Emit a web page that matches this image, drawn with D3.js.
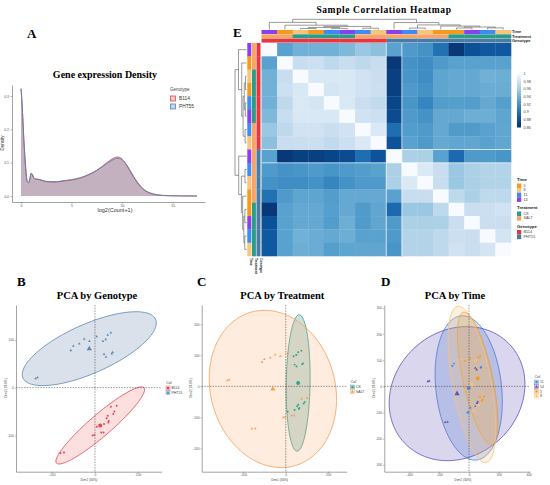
<!DOCTYPE html>
<html>
<head>
<meta charset="utf-8">
<script src="https://cdn.jsdelivr.net/npm/d3@7"></script>
<style>
  body { margin: 0; background: #fff; }
  text { font-family: "Liberation Sans", Arial, sans-serif; }
  .serif { font-family: "Liberation Serif", "Times New Roman", serif; font-weight: bold; }
</style>
</head>
<body>
<div id="fig"></div>
<script>
// ---------- data: density (panel A) ----------
const densityX = [0, 0.1, 0.2, 0.3, 0.4, 0.5, 0.6, 0.75, 0.9, 1.0, 1.1, 1.25, 1.5, 1.75, 2, 2.5, 3, 3.5, 4, 4.5, 5, 5.5, 6, 6.5, 7, 7.5, 8, 8.5, 9, 9.25, 9.5, 9.75, 10, 10.5, 11, 11.5, 12, 12.5, 13, 13.5, 14, 15, 16, 17.4];
const densityB114 = [0.322, 0.28, 0.22, 0.16, 0.11, 0.07, 0.045, 0.04, 0.055, 0.068, 0.066, 0.055, 0.05, 0.05, 0.047, 0.043, 0.042, 0.042, 0.044, 0.046, 0.048, 0.051, 0.055, 0.061, 0.068, 0.077, 0.088, 0.1, 0.111, 0.115, 0.117, 0.116, 0.11, 0.09, 0.063, 0.04, 0.022, 0.012, 0.006, 0.003, 0.0015, 0.0005, 0.0002, 0];
const densityPHT55 = [0.322, 0.28, 0.22, 0.16, 0.11, 0.07, 0.045, 0.04, 0.055, 0.068, 0.066, 0.055, 0.051, 0.05, 0.048, 0.044, 0.043, 0.043, 0.045, 0.047, 0.049, 0.052, 0.056, 0.062, 0.069, 0.077, 0.087, 0.098, 0.107, 0.111, 0.113, 0.113, 0.109, 0.091, 0.066, 0.042, 0.024, 0.013, 0.007, 0.0035, 0.0018, 0.0006, 0.0002, 0];
const densityTicksX = [0, 5, 10, 15];
const densityTicksY = [0, 0.1, 0.2, 0.3];

// ---------- data: correlation heatmap (panel E) ----------
const hmValues = [
  [1.000,0.930,0.940,0.940,0.940,0.945,0.955,0.950,0.930,0.925,0.920,0.900,0.865,0.880,0.885,0.885],
  [0.930,1.000,0.975,0.978,0.970,0.975,0.970,0.975,0.865,0.920,0.917,0.925,0.930,0.930,0.930,0.930],
  [0.940,0.975,1.000,0.985,0.985,0.985,0.980,0.976,0.870,0.922,0.917,0.932,0.935,0.935,0.940,0.938],
  [0.940,0.978,0.985,1.000,0.982,0.985,0.980,0.977,0.870,0.925,0.920,0.932,0.935,0.935,0.937,0.937],
  [0.940,0.970,0.985,0.982,1.000,0.985,0.976,0.972,0.873,0.922,0.912,0.927,0.928,0.927,0.935,0.928],
  [0.945,0.975,0.985,0.985,0.985,1.000,0.980,0.978,0.877,0.925,0.920,0.935,0.935,0.938,0.938,0.932],
  [0.955,0.970,0.980,0.980,0.976,0.980,1.000,0.986,0.898,0.927,0.925,0.935,0.926,0.926,0.930,0.933],
  [0.950,0.975,0.976,0.977,0.972,0.978,0.986,1.000,0.882,0.930,0.925,0.935,0.933,0.933,0.930,0.933],
  [0.930,0.865,0.870,0.870,0.873,0.877,0.898,0.882,1.000,0.962,0.962,0.930,0.895,0.925,0.925,0.922],
  [0.925,0.920,0.922,0.925,0.922,0.925,0.927,0.930,0.962,1.000,0.986,0.975,0.955,0.962,0.965,0.965],
  [0.920,0.917,0.917,0.920,0.912,0.920,0.925,0.925,0.962,0.986,1.000,0.975,0.955,0.962,0.965,0.965],
  [0.900,0.925,0.932,0.932,0.927,0.935,0.935,0.935,0.930,0.975,0.975,1.000,0.970,0.962,0.970,0.970],
  [0.865,0.930,0.935,0.935,0.928,0.935,0.926,0.933,0.895,0.955,0.955,0.970,1.000,0.976,0.977,0.980],
  [0.880,0.930,0.935,0.935,0.927,0.938,0.926,0.933,0.925,0.962,0.962,0.962,0.976,1.000,0.976,0.976],
  [0.885,0.930,0.940,0.937,0.935,0.938,0.930,0.930,0.925,0.965,0.965,0.970,0.977,0.976,1.000,0.981],
  [0.885,0.930,0.938,0.937,0.928,0.932,0.933,0.933,0.922,0.965,0.965,0.970,0.980,0.976,0.981,1.000]
];
const hmTime = [14, 5, 8, 5, 11, 14, 11, 8, 14, 11, 8, 5, 5, 14, 11, 8];
const hmTreatment = ["SALT","SALT","CK","CK","CK","CK","SALT","SALT","SALT","SALT","SALT","SALT","CK","CK","CK","CK"];
const hmGenotype = ["B114","B114","B114","B114","B114","B114","B114","B114","PHT55","PHT55","PHT55","PHT55","PHT55","PHT55","PHT55","PHT55"];
// hclust-style merges (negative = leaf, positive = earlier merge) and heights
const hcMerge = [[-3,-4],[-5,-6],[-10,-11],[-7,-8],[-13,-14],[-15,-16],[1,2],[5,6],[7,4],[-12,8],[-2,9],[3,10],[-9,12],[-1,11],[14,13]];
const hcHeight = [0.10, 0.11, 0.14, 0.13, 0.15, 0.16, 0.2, 0.24, 0.3, 0.34, 0.42, 0.45, 0.68, 0.70, 1.0];
const hmLegendTicks = [1, 0.98, 0.96, 0.94, 0.92, 0.9, 0.88, 0.86];

// ---------- data: PCA (panels B, C, D) ----------
const pcaDim1 = [-276,-267,-112,-101,-73,-50,-26,8,37,50,59,74,42,51,78,82,
                 -160,-144,-11,-3,29,40,74,101,54,59,9,42,62,64,85,90];
const pcaDim2 = [19,21,78,87,92,102,97,107,97,101,110,115,70,64,71,74,
                 -137,-136,-100,-99,-94,-94,-40,-38,-64,-59,-82,-76,-73,-70,-55,-50];
const pcaGenotype = ["PHT55","PHT55","PHT55","PHT55","PHT55","PHT55","PHT55","PHT55","PHT55","PHT55","PHT55","PHT55","PHT55","PHT55","PHT55","PHT55",
                     "B114","B114","B114","B114","B114","B114","B114","B114","B114","B114","B114","B114","B114","B114","B114","B114"];
const pcaTreatment = ["SALT","SALT","SALT","SALT","SALT","SALT","SALT","SALT","CK","CK","CK","CK","CK","CK","CK","CK",
                      "SALT","SALT","SALT","SALT","SALT","SALT","SALT","SALT","CK","CK","CK","CK","CK","CK","CK","CK"];
const pcaTime = ["14","14","11","11","8","8","5","5","8","8","5","5","14","14","11","11",
                 "14","14","11","11","8","8","5","5","14","14","11","11","8","8","5","5"];

// ---------- colours ----------
const timeColor = {5: "#f7991d", 8: "#fac47d", 11: "#3e8af6", 14: "#8a3ff0"};
const treatColor = {CK: "#2a9d8a", SALT: "#f6a566"};
const genoColor = {B114: "#e8363f", PHT55: "#4a7ca3"};

const svg = d3.select("#fig").append("svg").attr("width", 550).attr("height", 485);

function styleAxis(g, fs) {
  g.select(".domain").attr("stroke", "#666").attr("stroke-width", 0.6);
  g.selectAll(".tick line").attr("stroke", "#666").attr("stroke-width", 0.5);
  g.selectAll(".tick text").attr("font-size", fs).attr("fill", "#555");
}

// ================= Panel A =================
svg.append("text").attr("class", "serif").attr("x", 27).attr("y", 37.5).attr("font-size", 13).text("A");
svg.append("text").attr("class", "serif").attr("x", 105).attr("y", 77.5).attr("text-anchor", "middle")
  .attr("font-size", 10).text("Gene expression Density");

const ax = d3.scaleLinear().domain([-0.89, 18.2]).range([12, 205]);
const ay = d3.scaleLinear().domain([-0.018, 0.333]).range([202, 85]);

const densSeries = [
  {name: "B114", vals: densityB114, stroke: "#e5484d", fill: "rgba(228,80,80,0.3)"},
  {name: "PHT55", vals: densityPHT55, stroke: "#4f84b6", fill: "rgba(80,120,165,0.3)"}
];
const area = vals => d3.area().x((d, i) => ax(densityX[i])).y0(ay(0)).y1((d) => ay(d)).curve(d3.curveMonotoneX)(vals);
const line = vals => d3.line().x((d, i) => ax(densityX[i])).y(d => ay(d)).curve(d3.curveMonotoneX)(vals);
densSeries.forEach(s => svg.append("path").attr("d", area(s.vals)).attr("fill", s.fill));
densSeries.forEach(s => svg.append("path").attr("d", line(s.vals)).attr("fill", "none")
  .attr("stroke", s.stroke).attr("stroke-width", 0.9));

svg.append("g").attr("transform", "translate(0,202)")
  .call(d3.axisBottom(ax).tickValues(densityTicksX).tickSize(1.5).tickPadding(1.5).tickSizeOuter(0).tickFormat(d3.format("d")))
  .call(g => styleAxis(g, 3.5));
svg.append("g").attr("transform", "translate(12,0)")
  .call(d3.axisLeft(ay).tickValues(densityTicksY).tickSize(1.5).tickPadding(1.5).tickSizeOuter(0).tickFormat(d3.format(".1f")))
  .call(g => styleAxis(g, 3.5));
svg.append("text").attr("x", 115).attr("y", 212).attr("text-anchor", "middle").attr("font-size", 5.5).attr("fill", "#333").text("log2(Count+1)");
svg.append("text").attr("transform", "translate(4,143) rotate(-90)").attr("text-anchor", "middle").attr("font-size", 4.5).attr("fill", "#333").text("Density");

// legend A
svg.append("text").attr("x", 170).attr("y", 90.5).attr("font-size", 4.5).attr("fill", "#444").text("Genotype");
densSeries.forEach((s, i) => {
  const y = 96 + i * 8;
  svg.append("rect").attr("x", 170.5).attr("y", y).attr("width", 5).attr("height", 5)
    .attr("fill", s.fill).attr("stroke", s.stroke).attr("stroke-width", 0.8);
  svg.append("text").attr("x", 179).attr("y", y + 4.3).attr("font-size", 4.8).attr("fill", "#333").text(s.name);
});

// ================= Panel E: heatmap =================
svg.append("text").attr("class", "serif").attr("x", 233).attr("y", 37).attr("font-size", 13).text("E");
svg.append("text").attr("class", "serif").attr("x", 384).attr("y", 12.5).attr("text-anchor", "middle")
  .attr("font-size", 9.5).attr("letter-spacing", 0.6).text("Sample Correlation Heatmap");

const n = hmValues.length;
const hx = d3.scaleBand().domain(d3.range(n)).range([261.5, 511]);
const hy = d3.scaleBand().domain(d3.range(n)).range([43, 256]);
const bluesRamp = t => d3.interpolateBlues(Math.pow(t, 0.85));
const hColor = d3.scaleSequential([1, 0.86], bluesRamp);

const cells = [];
hmValues.forEach((row, r) => row.forEach((v, c) => cells.push({r, c, v})));
svg.append("g").selectAll("rect").data(cells).join("rect")
  .attr("x", d => hx(d.c)).attr("y", d => hy(d.r))
  .attr("width", hx.bandwidth() + 0.3).attr("height", hy.bandwidth() + 0.3)
  .attr("fill", d => hColor(d.v));
// cluster separators
[8, 9].forEach(k => {
  svg.append("line").attr("x1", hx(k)).attr("x2", hx(k)).attr("y1", 43).attr("y2", 256).attr("stroke", "#fff").attr("stroke-width", 0.7);
  svg.append("line").attr("x1", 261.5).attr("x2", 511).attr("y1", hy(k)).attr("y2", hy(k)).attr("stroke", "#fff").attr("stroke-width", 0.7);
});

// annotations
const annos = [
  {name: "Time", vals: hmTime, col: v => timeColor[v]},
  {name: "Treatment", vals: hmTreatment, col: v => treatColor[v]},
  {name: "Genotype", vals: hmGenotype, col: v => genoColor[v]}
];
annos.forEach((a, k) => {
  const y0 = 30 + k * 4.3;
  svg.append("g").selectAll("rect").data(a.vals).join("rect")
    .attr("x", (d, i) => hx(i)).attr("y", y0).attr("width", hx.bandwidth() + 0.3).attr("height", 4)
    .attr("fill", a.col);
  svg.append("text").attr("x", 512).attr("y", y0 + 3.4).attr("font-size", 4).attr("font-weight", "bold").attr("fill", "#222").text(a.name);
  const x0 = 247.3 + k * 4.6;
  svg.append("g").selectAll("rect").data(a.vals).join("rect")
    .attr("x", x0).attr("y", (d, i) => hy(i)).attr("width", 4).attr("height", hy.bandwidth() + 0.3)
    .attr("fill", a.col);
  svg.append("text").attr("transform", `translate(${x0 + 3},258) rotate(90)`)
    .attr("font-size", 3.3).attr("font-weight", "bold").attr("fill", "#222").text(a.name);
});

// dendrograms from the hclust merges
function buildTree(pos) {
  const nodes = [];
  hcMerge.forEach((m, i) => {
    const ch = m.map(k => k < 0 ? {p: pos(-k - 1), h: 0} : nodes[k - 1]);
    nodes.push({p: d3.mean(ch, c => c.p), h: hcHeight[i], ch});
  });
  return nodes;
}
const colTree = buildTree(i => hx(i) + hx.bandwidth() / 2);
const colH = d3.scaleLinear().domain([0, 1]).range([29.5, 19.3]);
const rowTree = buildTree(i => hy(i) + hy.bandwidth() / 2);
const rowH = d3.scaleLinear().domain([0, 1]).range([246.6, 235]);
const dendro = svg.append("g").attr("fill", "none").attr("stroke", "#555").attr("stroke-width", 0.6);
colTree.forEach(nd => {
  const p = d3.path();
  p.moveTo(nd.ch[0].p, colH(nd.ch[0].h)); p.lineTo(nd.ch[0].p, colH(nd.h));
  p.lineTo(nd.ch[1].p, colH(nd.h)); p.lineTo(nd.ch[1].p, colH(nd.ch[1].h));
  dendro.append("path").attr("d", p.toString());
});
rowTree.forEach(nd => {
  const p = d3.path();
  p.moveTo(rowH(nd.ch[0].h), nd.ch[0].p); p.lineTo(rowH(nd.h), nd.ch[0].p);
  p.lineTo(rowH(nd.h), nd.ch[1].p); p.lineTo(rowH(nd.ch[1].h), nd.ch[1].p);
  dendro.append("path").attr("d", p.toString());
});

// colour legend
const lgY = d3.scaleLinear().domain([1, 0.86]).range([73.5, 127.5]);
const grad = svg.append("defs").append("linearGradient").attr("id", "blues").attr("x1", 0).attr("x2", 0).attr("y1", 0).attr("y2", 1);
d3.range(0, 1.01, 0.1).forEach(t => grad.append("stop").attr("offset", t).attr("stop-color", bluesRamp(t)));
svg.append("rect").attr("x", 517).attr("y", 73.5).attr("width", 4).attr("height", 54).attr("fill", "url(#blues)");
hmLegendTicks.forEach(v => svg.append("text").attr("x", 523.5).attr("y", lgY(v) + 1.3)
  .attr("font-size", 3.8).attr("fill", "#444").text(v));

const annoLegend = [
  {title: "Time", y: 181, items: [5, 8, 11, 14], col: v => timeColor[v]},
  {title: "Treatment", y: 209, items: ["CK", "SALT"], col: v => treatColor[v]},
  {title: "Genotype", y: 227.5, items: ["B114", "PHT55"], col: v => genoColor[v]}
];
annoLegend.forEach(l => {
  svg.append("text").attr("x", 517).attr("y", l.y).attr("font-size", 4.3).attr("font-weight", "bold").attr("fill", "#222").text(l.title);
  l.items.forEach((it, i) => {
    const y = l.y + 2.5 + i * 4.6;
    svg.append("rect").attr("x", 517).attr("y", y).attr("width", 4.2).attr("height", 4.6).attr("fill", l.col(it));
    svg.append("text").attr("x", 523.5).attr("y", y + 3.3).attr("font-size", 3.8).attr("fill", "#444").text(it);
  });
});

// ================= PCA panels =================
const shapes = [d3.symbolCircle, d3.symbolTriangle, d3.symbolSquare, d3.symbolCross];

function ellipse(xs, ys, level) {
  const m = xs.length, mx = d3.mean(xs), my = d3.mean(ys);
  let sxx = 0, syy = 0, sxy = 0;
  xs.forEach((x, i) => { sxx += (x - mx) ** 2; syy += (ys[i] - my) ** 2; sxy += (x - mx) * (ys[i] - my); });
  sxx /= m - 1; syy /= m - 1; sxy /= m - 1;
  const df = m - 1;
  const qf = df / 2 * (Math.pow(1 - level, -2 / df) - 1);
  const r = Math.sqrt(2 * qf);
  const tr = sxx + syy, det = sxx * syy - sxy * sxy;
  const disc = Math.sqrt(Math.max(tr * tr / 4 - det, 0));
  const l1 = tr / 2 + disc, l2 = Math.max(tr / 2 - disc, 0);
  const th = Math.atan2(l1 - sxx, sxy);
  return d3.range(0, 101).map(k => {
    const t = k / 100 * 2 * Math.PI;
    const ex = r * Math.sqrt(l1) * Math.cos(t), ey = r * Math.sqrt(l2) * Math.sin(t);
    return [mx + ex * Math.cos(th) - ey * Math.sin(th), my + ex * Math.sin(th) + ey * Math.cos(th)];
  });
}

function drawPCA(o) {
  const g = svg.append("g");
  g.append("text").attr("class", "serif").attr("x", o.letterX).attr("y", 286).attr("font-size", 13).text(o.letter);
  g.append("text").attr("class", "serif").attr("x", o.titleX).attr("y", 299).attr("text-anchor", "middle")
    .attr("font-size", 10.5).text(o.title);
  const x = d3.scaleLinear().domain(o.xDomain).range(o.xRange);
  const y = d3.scaleLinear().domain(o.yDomain).range([471.7, 305]);

  const groups = o.levels.map((lv, k) => {
    const idx = d3.range(pcaDim1.length).filter(i => o.key[i] === lv);
    return {lv, k, xs: idx.map(i => pcaDim1[i]), ys: idx.map(i => pcaDim2[i])};
  });
  const poly = d3.line().x(d => x(d[0])).y(d => y(d[1]));
  groups.forEach(gr => g.append("path").attr("d", poly(ellipse(gr.xs, gr.ys, 0.95)) + "Z")
    .attr("fill", o.fills[gr.k]).attr("stroke", o.colors[gr.k]).attr("stroke-width", 0.8));

  // zero lines
  g.append("line").attr("x1", o.xRange[0]).attr("x2", o.xRange[1]).attr("y1", y(0)).attr("y2", y(0))
    .attr("stroke", "#333").attr("stroke-width", 0.5).attr("stroke-dasharray", "1.5,1.2");
  g.append("line").attr("x1", x(0)).attr("x2", x(0)).attr("y1", 305).attr("y2", 471.7)
    .attr("stroke", "#333").attr("stroke-width", 0.5).attr("stroke-dasharray", "1.5,1.2");

  groups.forEach(gr => {
    g.selectAll(null).data(gr.xs).join("path")
      .attr("transform", (d, i) => `translate(${x(d)},${y(gr.ys[i])})`)
      .attr("d", d3.symbol(shapes[gr.k], 3)).attr("fill", o.colors[gr.k]);
    g.append("path").attr("transform", `translate(${x(d3.mean(gr.xs))},${y(d3.mean(gr.ys))})`)
      .attr("d", d3.symbol(shapes[gr.k], 12)).attr("fill", o.colors[gr.k]);
  });

  g.append("g").attr("transform", "translate(0,471.7)")
    .call(d3.axisBottom(x).tickValues(o.xTicks).tickSize(1.2).tickPadding(0.8).tickSizeOuter(0))
    .call(a => styleAxis(a, 3.2));
  g.append("g").attr("transform", `translate(${o.xRange[0]},0)`)
    .call(d3.axisLeft(y).tickValues(o.yTicks).tickSize(1.2).tickPadding(1).tickSizeOuter(0))
    .call(a => styleAxis(a, 3.2));
  g.selectAll(".tick text").text(d => String(d).replace("-", "-"));
  g.append("text").attr("x", x(0) - 6).attr("y", 481).attr("text-anchor", "middle").attr("font-size", 3.2).attr("fill", "#444").text("Dim1 (34%)");
  g.append("text").attr("transform", `translate(${o.xRange[0] - 9.5},388) rotate(-90)`).attr("text-anchor", "middle")
    .attr("font-size", 3.2).attr("fill", "#444").text("Dim2 (18.6%)");

  // legend
  g.append("text").attr("x", o.legX).attr("y", o.legY).attr("font-size", 3.8).attr("fill", "#444").text("Col");
  groups.forEach(gr => {
    const ly = o.legY + 2 + gr.k * 4.7;
    g.append("rect").attr("x", o.legX).attr("y", ly).attr("width", 4).attr("height", 4)
      .attr("fill", o.fills[gr.k]).attr("stroke", o.colors[gr.k]).attr("stroke-width", 0.4);
    g.append("path").attr("transform", `translate(${o.legX + 2},${ly + 2})`)
      .attr("d", d3.symbol(shapes[gr.k], 5)).attr("fill", o.colors[gr.k]);
    g.append("text").attr("x", o.legX + 5.5).attr("y", ly + 3.2).attr("font-size", 3.5).attr("fill", "#444").text(gr.lv);
  });
}

drawPCA({
  letter: "B", letterX: 17, title: "PCA by Genotype", titleX: 97,
  xDomain: [-367, 310], xRange: [16, 161.7], yDomain: [-176, 173],
  xTicks: [-200, 0, 200], yTicks: [-100, 0, 100],
  key: pcaGenotype, levels: ["B114", "PHT55"],
  colors: ["#e8434f", "#5a88b3"], fills: ["rgba(240,110,110,0.22)", "rgba(100,130,170,0.24)"],
  legX: 166, legY: 384
});
drawPCA({
  letter: "C", letterX: 197, title: "PCA by Treatment", titleX: 282.3,
  xDomain: [-397, 288], xRange: [201.7, 346.7], yDomain: [-275, 262],
  xTicks: [-200, 0, 200], yTicks: [-200, -100, 0, 100, 200],
  key: pcaTreatment, levels: ["CK", "SALT"],
  colors: ["#36a08f", "#f5a05a"], fills: ["rgba(60,150,135,0.28)", "rgba(250,170,110,0.22)"],
  legX: 350.5, legY: 383
});
drawPCA({
  letter: "D", letterX: 381, title: "PCA by Time", titleX: 455,
  xDomain: [-568, 409], xRange: [384.3, 530], yDomain: [-326, 311],
  xTicks: [-400, -200, 0, 200, 400], yTicks: [-300, -200, -100, 0, 100, 200, 300],
  key: pcaTime, levels: ["11", "14", "5", "8"],
  colors: ["#4b86d6", "#6352b8", "#f59b1a", "#f9c27c"],
  fills: ["rgba(75,134,214,0.25)", "rgba(99,82,184,0.24)", "rgba(245,155,26,0.2)", "rgba(249,194,124,0.25)"],
  legX: 534.5, legY: 378
});
</script>
</body>
</html>
